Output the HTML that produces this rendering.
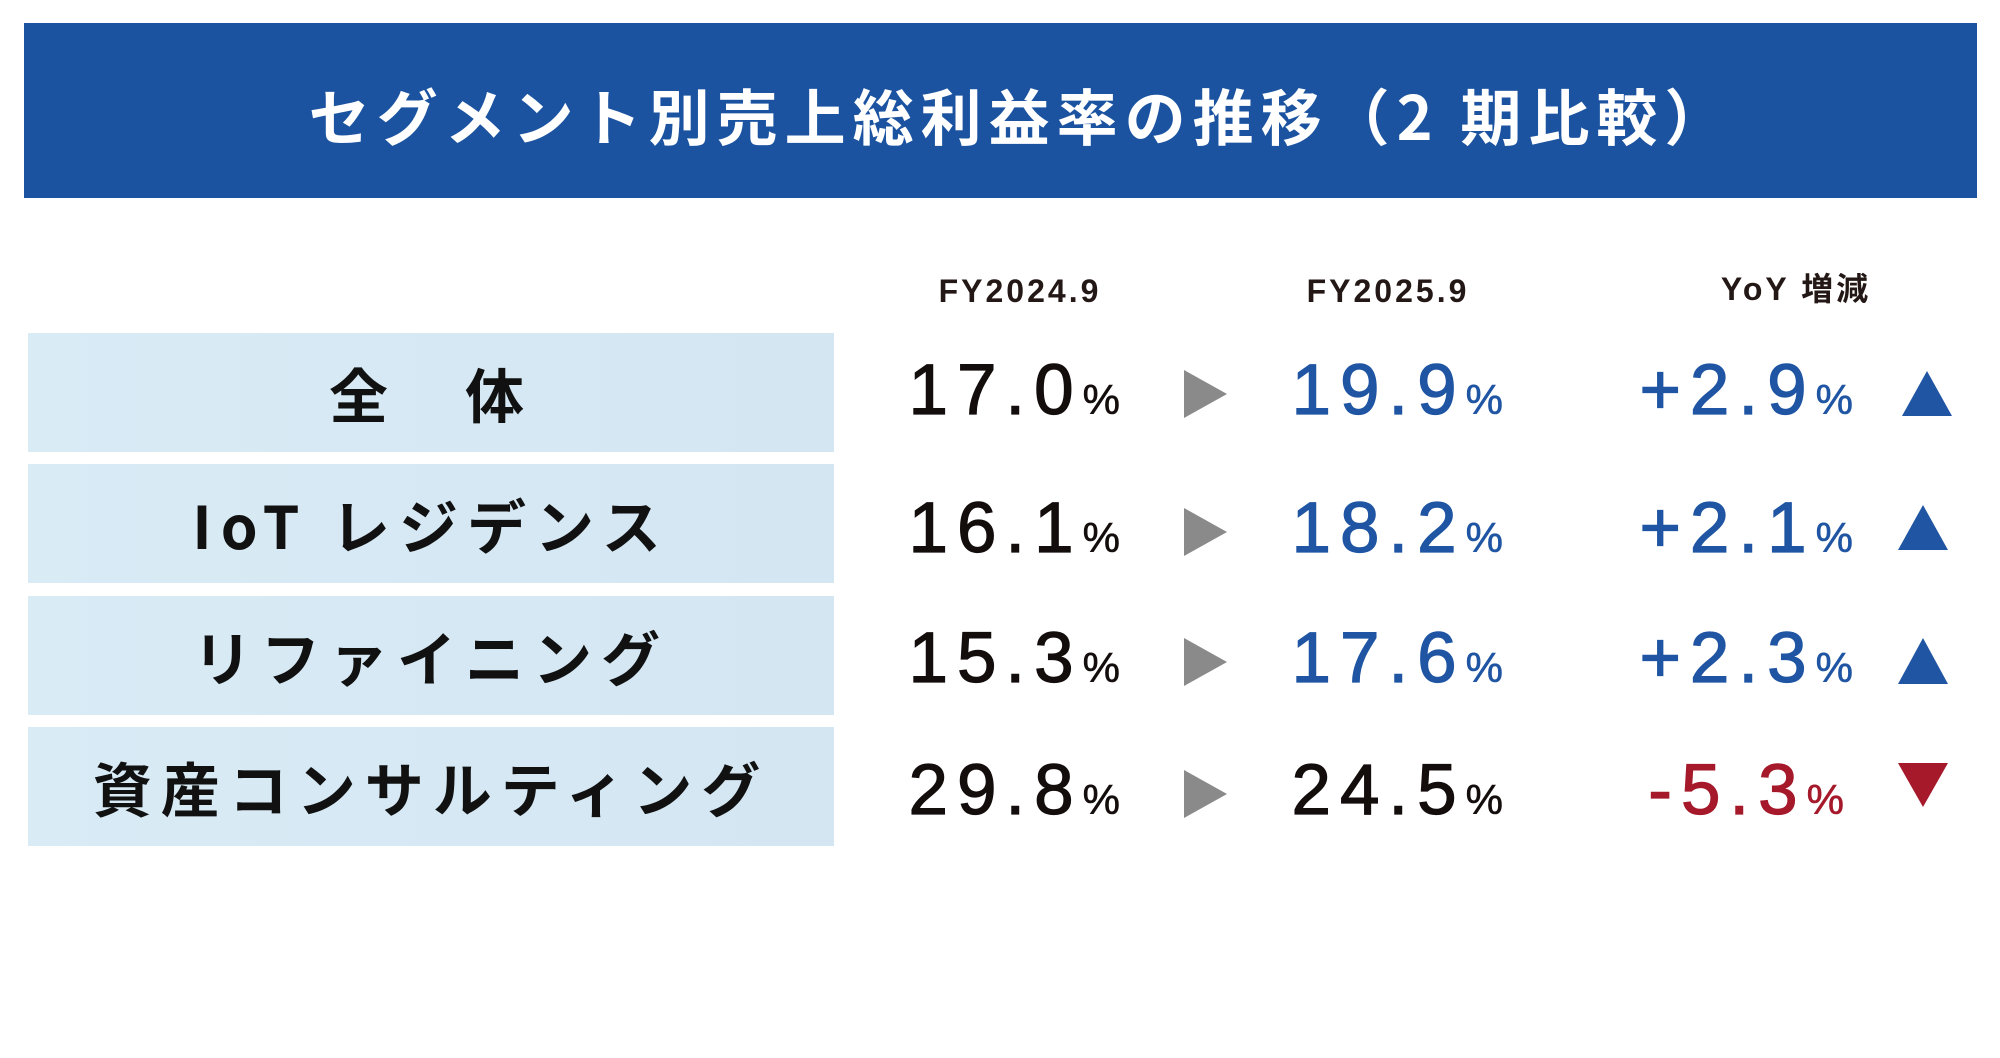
<!DOCTYPE html>
<html><head><meta charset="utf-8"><style>
body{margin:0;width:2000px;height:1058px;background:#fff;position:relative;overflow:hidden;font-family:"Liberation Sans","Noto Sans CJK JP",sans-serif;}
.ban{position:absolute;left:24px;top:23px;width:1953px;height:175px;background:#1b53a1;}
.title{position:absolute;left:44px;width:1953px;top:78px;text-align:center;color:#fff;font-size:61px;font-weight:bold;letter-spacing:7px;line-height:72px;font-family:"Noto Sans CJK JP",sans-serif;}
.hd{position:absolute;top:271px;font-size:32px;font-weight:bold;color:#231815;letter-spacing:3px;text-align:center;width:300px;line-height:40px;}
.box{position:absolute;left:28px;width:806px;height:119px;background:linear-gradient(90deg,#d9ebf5,#d3e6f2);}
.lab{position:absolute;left:28px;width:806px;text-align:center;font-size:59px;font-weight:bold;color:#111;letter-spacing:9px;font-family:"Noto Sans CJK JP",sans-serif;line-height:119px;}
.n{position:absolute;font-size:71px;letter-spacing:9px;line-height:70px;-webkit-text-stroke:1.2px currentColor;text-align:right;width:420px;}
.n small{font-size:42px;letter-spacing:0;-webkit-text-stroke:0.6px currentColor;}
.k{color:#130d0c}.b{color:#1f55a3}.r{color:#a5192b}
svg{position:absolute;left:0;top:0}
</style></head><body>
<div class="ban"></div>
<div class="title">セグメント別売上総利益率の推移（2 期比較）</div>
<div class="hd" style="left:870px">FY2024.9</div>
<div class="hd" style="left:1238px">FY2025.9</div>
<div class="hd" style="left:1646px;top:269px">YoY 増減</div>

<div class="box" style="top:333px"></div><div class="lab" style="top:333px">全　体</div>
<div class="box" style="top:464px"></div><div class="lab" style="top:464px">IoT レジデンス</div>
<div class="box" style="top:596px"></div><div class="lab" style="top:596px">リファイニング</div>
<div class="box" style="top:727px"></div><div class="lab" style="top:727px">資産コンサルティング</div>

<div class="n k" style="left:700px;top:356px">17.0<small>%</small></div>
<div class="n b" style="left:1083px;top:356px">19.9<small>%</small></div>
<div class="n b" style="left:1433px;top:356px">+2.9<small>%</small></div>

<div class="n k" style="left:700px;top:494px">16.1<small>%</small></div>
<div class="n b" style="left:1083px;top:494px">18.2<small>%</small></div>
<div class="n b" style="left:1433px;top:494px">+2.1<small>%</small></div>

<div class="n k" style="left:700px;top:624px">15.3<small>%</small></div>
<div class="n b" style="left:1083px;top:624px">17.6<small>%</small></div>
<div class="n b" style="left:1433px;top:624px">+2.3<small>%</small></div>

<div class="n k" style="left:700px;top:756px">29.8<small>%</small></div>
<div class="n k" style="left:1083px;top:756px">24.5<small>%</small></div>
<div class="n r" style="left:1424px;top:756px">-5.3<small>%</small></div>

<svg width="2000" height="1058">
<g fill="#8a8a8a">
<polygon points="1184,370 1227,394 1184,418"/>
<polygon points="1184,508 1227,532 1184,556"/>
<polygon points="1184,638 1227,662 1184,686"/>
<polygon points="1184,770 1227,794 1184,818"/>
</g>
<g fill="#1f55a3">
<polygon points="1927,371 1952,416 1902,416"/>
<polygon points="1923,505 1948,550 1898,550"/>
<polygon points="1923,638 1948,684 1898,684"/>
</g>
<polygon fill="#a5192b" points="1898,763 1948,763 1923,807"/>
</svg>
</body></html>
